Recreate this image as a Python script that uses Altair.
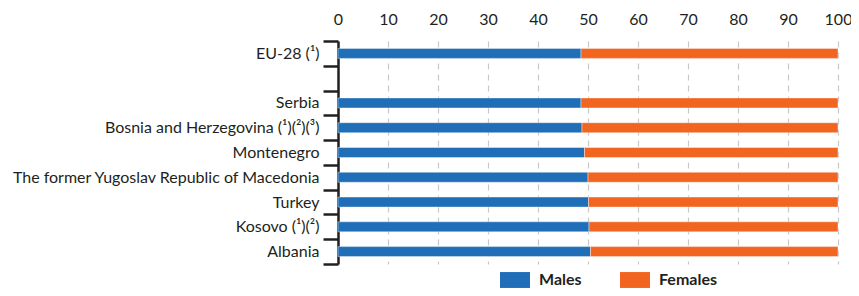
import altair as alt
import pandas as pd

countries = ["EU-28 (¹)", "Serbia", "Bosnia and Herzegovina (¹)(²)(³)", "Montenegro",
             "The former Yugoslav Republic of Macedonia", "Turkey", "Kosovo (¹)(²)", "Albania"]
males = [48.6, 48.6, 48.8, 49.3, 50.0, 50.1, 50.2, 50.5]
females = [round(100 - m, 1) for m in males]
domain = ["EU-28 (¹)", " ", "Serbia", "Bosnia and Herzegovina (¹)(²)(³)", "Montenegro",
          "The former Yugoslav Republic of Macedonia", "Turkey", "Kosovo (¹)(²)", "Albania"]
series = ["Males", "Females"]
colors = ["#1F6EB7", "#F26521"]

rows = []
for c, m, f in zip(countries, males, females):
    rows.append({"country": c, "sex": "Males", "value": m, "ord": 0})
    rows.append({"country": c, "sex": "Females", "value": f, "ord": 1})
df = pd.DataFrame(rows)

FONT = "Lato"

chart = alt.Chart(df).mark_bar(size=10, stroke="white", strokeWidth=0.4).encode(
    y=alt.Y("country:N", sort=domain,
            scale=alt.Scale(domain=domain, paddingInner=0, paddingOuter=0),
            axis=alt.Axis(title=None, tickBand="extent", tickSize=15, tickWidth=2.5,
                          tickColor="#231f20", domainColor="#231f20", domainWidth=2.5,
                          labelPadding=4, labelFontSize=16, labelColor="#231f20",
                          labelFont=FONT, labelLimit=400, grid=False)),
    x=alt.X("value:Q", stack="zero",
            scale=alt.Scale(domain=[0, 100], nice=False),
            axis=alt.Axis(title=None, orient="top", values=list(range(0, 101, 10)),
                          ticks=False, domain=False, labelPadding=14, labelFontSize=16,
                          labelFlush=False,
                          labelColor="#231f20", labelFont=FONT, grid=True,
                          gridColor="#c8c8c8", gridDash=[6, 5], gridWidth=1.2)),
    color=alt.Color("sex:N", scale=alt.Scale(domain=series, range=colors),
                    legend=alt.Legend(title=None, orient="none", legendX=162, legendY=224,
                                      direction="horizontal",
                                      symbolType="M-1,-0.53H1V0.53H-1Z", symbolSize=900,
                                      symbolStrokeWidth=0, symbolOpacity=1,
                                      labelFont=FONT, labelFontSize=16, labelFontWeight="bold",
                                      labelColor="#231f20", labelOffset=9, columnPadding=38)),
    order=alt.Order("ord:Q"),
).properties(
    width=500, height=223,
    autosize=alt.AutoSizeParams(type="none"),
    padding={"left": 330, "top": 33, "right": 13, "bottom": 24},
).configure_view(stroke=None)

chart.save("out.html", embed_options={"renderer": "svg", "actions": False})
